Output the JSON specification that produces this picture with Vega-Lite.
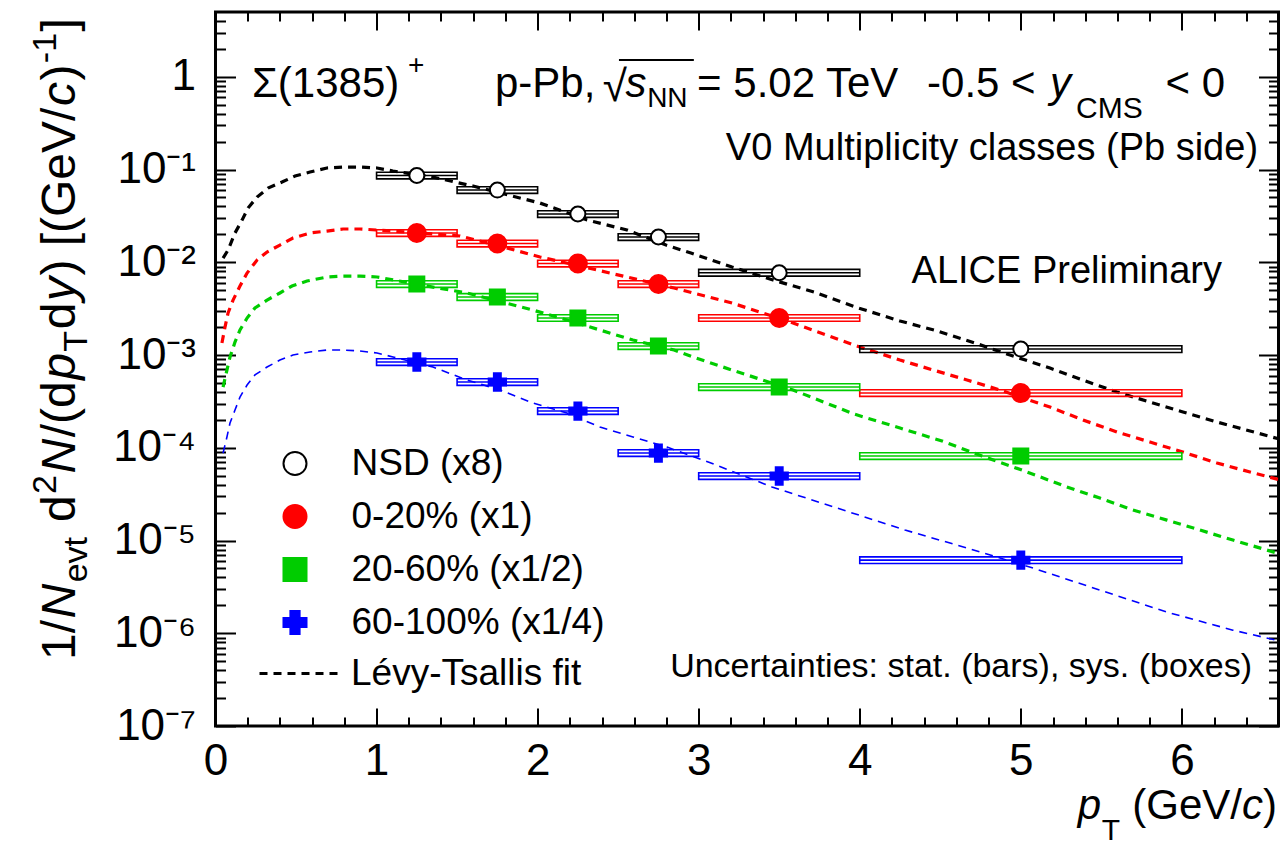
{
  "$schema": "https://vega.github.io/schema/vega-lite/v6.json",
  "width": 1063,
  "height": 714,
  "autosize": {"type": "none"},
  "padding": {"left": 215.5, "top": 12, "right": 8, "bottom": 127},
  "background": "white",
  "config": {
    "view": {"stroke": "black", "strokeWidth": 3},
    "font": "Liberation Sans",
    "text": {"font": "Liberation Sans", "color": "black"},
    "axis": {"labelFont": "Liberation Sans", "titleFont": "Liberation Sans", "labelColor": "black", "titleColor": "black", "tickColor": "black", "domain": false, "grid": false, "labelOverlap": false, "labelFlush": false, "tickWidth": 2},
    "legend": {"labelFont": "Liberation Sans", "labelColor": "black", "labelLimit": 600}
  },
  "datasets": {
    "pts": [
      {"series": "NSD (x8)", "pt": 1.25, "lo": 1.0, "hi": 1.5, "v": 0.0863, "slo": 0.0794, "shi": 0.0936},
      {"series": "NSD (x8)", "pt": 1.75, "lo": 1.5, "hi": 2.0, "v": 0.0601, "slo": 0.0553, "shi": 0.0652},
      {"series": "NSD (x8)", "pt": 2.25, "lo": 2.0, "hi": 2.5, "v": 0.0332, "slo": 0.0305, "shi": 0.036},
      {"series": "NSD (x8)", "pt": 2.75, "lo": 2.5, "hi": 3.0, "v": 0.01875, "slo": 0.01725, "shi": 0.02034},
      {"series": "NSD (x8)", "pt": 3.5, "lo": 3.0, "hi": 4.0, "v": 0.00772, "slo": 0.0071, "shi": 0.00838},
      {"series": "NSD (x8)", "pt": 5.0, "lo": 4.0, "hi": 6.0, "v": 0.00116, "slo": 0.001067, "shi": 0.001259},
      {"series": "0-20% (x1)", "pt": 1.25, "lo": 1.0, "hi": 1.5, "v": 0.0207, "slo": 0.01904, "shi": 0.02246},
      {"series": "0-20% (x1)", "pt": 1.75, "lo": 1.5, "hi": 2.0, "v": 0.01595, "slo": 0.01467, "shi": 0.01731},
      {"series": "0-20% (x1)", "pt": 2.25, "lo": 2.0, "hi": 2.5, "v": 0.0097, "slo": 0.00892, "shi": 0.01052},
      {"series": "0-20% (x1)", "pt": 2.75, "lo": 2.5, "hi": 3.0, "v": 0.00583, "slo": 0.00536, "shi": 0.00633},
      {"series": "0-20% (x1)", "pt": 3.5, "lo": 3.0, "hi": 4.0, "v": 0.00251, "slo": 0.00231, "shi": 0.00272},
      {"series": "0-20% (x1)", "pt": 5.0, "lo": 4.0, "hi": 6.0, "v": 0.000389, "slo": 0.000358, "shi": 0.000422},
      {"series": "20-60% (x1/2)", "pt": 1.25, "lo": 1.0, "hi": 1.5, "v": 0.00583, "slo": 0.00536, "shi": 0.00633},
      {"series": "20-60% (x1/2)", "pt": 1.75, "lo": 1.5, "hi": 2.0, "v": 0.00423, "slo": 0.00389, "shi": 0.00459},
      {"series": "20-60% (x1/2)", "pt": 2.25, "lo": 2.0, "hi": 2.5, "v": 0.00251, "slo": 0.00231, "shi": 0.00272},
      {"series": "20-60% (x1/2)", "pt": 2.75, "lo": 2.5, "hi": 3.0, "v": 0.00125, "slo": 0.00115, "shi": 0.001356},
      {"series": "20-60% (x1/2)", "pt": 3.5, "lo": 3.0, "hi": 4.0, "v": 0.000452, "slo": 0.000416, "shi": 0.00049},
      {"series": "20-60% (x1/2)", "pt": 5.0, "lo": 4.0, "hi": 6.0, "v": 0.0000815, "slo": 0.000075, "shi": 0.0000884},
      {"series": "60-100% (x1/4)", "pt": 1.25, "lo": 1.0, "hi": 1.5, "v": 0.000841, "slo": 0.000774, "shi": 0.000912},
      {"series": "60-100% (x1/4)", "pt": 1.75, "lo": 1.5, "hi": 2.0, "v": 0.000512, "slo": 0.000471, "shi": 0.000556},
      {"series": "60-100% (x1/4)", "pt": 2.25, "lo": 2.0, "hi": 2.5, "v": 0.000249, "slo": 0.000229, "shi": 0.00027},
      {"series": "60-100% (x1/4)", "pt": 2.75, "lo": 2.5, "hi": 3.0, "v": 0.0000877, "slo": 0.0000807, "shi": 0.0000952},
      {"series": "60-100% (x1/4)", "pt": 3.5, "lo": 3.0, "hi": 4.0, "v": 0.0000496, "slo": 0.0000456, "shi": 0.0000538},
      {"series": "60-100% (x1/4)", "pt": 5.0, "lo": 4.0, "hi": 6.0, "v": 0.00000615, "slo": 0.00000566, "shi": 0.00000667}
    ],
    "fits": [
      {"series": "NSD (x8)", "pt": 0.047, "v": 0.01111},
      {"series": "NSD (x8)", "pt": 0.078, "v": 0.01355},
      {"series": "NSD (x8)", "pt": 0.121, "v": 0.0207},
      {"series": "NSD (x8)", "pt": 0.165, "v": 0.0285},
      {"series": "NSD (x8)", "pt": 0.202, "v": 0.0385},
      {"series": "NSD (x8)", "pt": 0.258, "v": 0.0505},
      {"series": "NSD (x8)", "pt": 0.326, "v": 0.0631},
      {"series": "NSD (x8)", "pt": 0.413, "v": 0.0733},
      {"series": "NSD (x8)", "pt": 0.494, "v": 0.0851},
      {"series": "NSD (x8)", "pt": 0.587, "v": 0.094},
      {"series": "NSD (x8)", "pt": 0.692, "v": 0.1039},
      {"series": "NSD (x8)", "pt": 0.792, "v": 0.1065},
      {"series": "NSD (x8)", "pt": 0.897, "v": 0.1065},
      {"series": "NSD (x8)", "pt": 1.003, "v": 0.1039},
      {"series": "NSD (x8)", "pt": 1.102, "v": 0.0964},
      {"series": "NSD (x8)", "pt": 1.35, "v": 0.083},
      {"series": "NSD (x8)", "pt": 1.599, "v": 0.0664},
      {"series": "NSD (x8)", "pt": 2.015, "v": 0.0435},
      {"series": "NSD (x8)", "pt": 2.307, "v": 0.0286},
      {"series": "NSD (x8)", "pt": 2.555, "v": 0.0223},
      {"series": "NSD (x8)", "pt": 2.797, "v": 0.01535},
      {"series": "NSD (x8)", "pt": 2.952, "v": 0.01259},
      {"series": "NSD (x8)", "pt": 3.207, "v": 0.00889},
      {"series": "NSD (x8)", "pt": 3.462, "v": 0.00644},
      {"series": "NSD (x8)", "pt": 3.716, "v": 0.00478},
      {"series": "NSD (x8)", "pt": 3.971, "v": 0.0033},
      {"series": "NSD (x8)", "pt": 4.25, "v": 0.00233},
      {"series": "NSD (x8)", "pt": 4.48, "v": 0.00182},
      {"series": "NSD (x8)", "pt": 4.716, "v": 0.001347},
      {"series": "NSD (x8)", "pt": 4.933, "v": 0.001},
      {"series": "NSD (x8)", "pt": 5.181, "v": 0.000724},
      {"series": "NSD (x8)", "pt": 5.386, "v": 0.000537},
      {"series": "NSD (x8)", "pt": 5.597, "v": 0.000399},
      {"series": "NSD (x8)", "pt": 5.802, "v": 0.000311},
      {"series": "NSD (x8)", "pt": 6.007, "v": 0.000243},
      {"series": "NSD (x8)", "pt": 6.218, "v": 0.0001896},
      {"series": "NSD (x8)", "pt": 6.423, "v": 0.0001517},
      {"series": "NSD (x8)", "pt": 6.6, "v": 0.000125},
      {"series": "0-20% (x1)", "pt": 0.04, "v": 0.001349},
      {"series": "0-20% (x1)", "pt": 0.059, "v": 0.002004},
      {"series": "0-20% (x1)", "pt": 0.078, "v": 0.002838},
      {"series": "0-20% (x1)", "pt": 0.109, "v": 0.003917},
      {"series": "0-20% (x1)", "pt": 0.152, "v": 0.005546},
      {"series": "0-20% (x1)", "pt": 0.196, "v": 0.007656},
      {"series": "0-20% (x1)", "pt": 0.258, "v": 0.01057},
      {"series": "0-20% (x1)", "pt": 0.32, "v": 0.01291},
      {"series": "0-20% (x1)", "pt": 0.4, "v": 0.01535},
      {"series": "0-20% (x1)", "pt": 0.481, "v": 0.01827},
      {"series": "0-20% (x1)", "pt": 0.587, "v": 0.0207},
      {"series": "0-20% (x1)", "pt": 0.692, "v": 0.02173},
      {"series": "0-20% (x1)", "pt": 0.792, "v": 0.02286},
      {"series": "0-20% (x1)", "pt": 0.897, "v": 0.02286},
      {"series": "0-20% (x1)", "pt": 1.003, "v": 0.02229},
      {"series": "0-20% (x1)", "pt": 1.27, "v": 0.0207},
      {"series": "0-20% (x1)", "pt": 1.518, "v": 0.0192},
      {"series": "0-20% (x1)", "pt": 1.766, "v": 0.01496},
      {"series": "0-20% (x1)", "pt": 2.015, "v": 0.0114},
      {"series": "0-20% (x1)", "pt": 2.263, "v": 0.00912},
      {"series": "0-20% (x1)", "pt": 2.555, "v": 0.00694},
      {"series": "0-20% (x1)", "pt": 2.847, "v": 0.00528},
      {"series": "0-20% (x1)", "pt": 2.965, "v": 0.00467},
      {"series": "0-20% (x1)", "pt": 3.207, "v": 0.00364},
      {"series": "0-20% (x1)", "pt": 3.586, "v": 0.002215},
      {"series": "0-20% (x1)", "pt": 3.965, "v": 0.001282},
      {"series": "0-20% (x1)", "pt": 4.25, "v": 0.000883},
      {"series": "0-20% (x1)", "pt": 4.455, "v": 0.00069},
      {"series": "0-20% (x1)", "pt": 4.666, "v": 0.000538},
      {"series": "0-20% (x1)", "pt": 4.871, "v": 0.00042},
      {"series": "0-20% (x1)", "pt": 5.014, "v": 0.000344},
      {"series": "0-20% (x1)", "pt": 5.181, "v": 0.000275},
      {"series": "0-20% (x1)", "pt": 5.386, "v": 0.0001995},
      {"series": "0-20% (x1)", "pt": 5.597, "v": 0.0001479},
      {"series": "0-20% (x1)", "pt": 5.802, "v": 0.0001153},
      {"series": "0-20% (x1)", "pt": 6.007, "v": 0.0000899},
      {"series": "0-20% (x1)", "pt": 6.218, "v": 0.0000685},
      {"series": "0-20% (x1)", "pt": 6.423, "v": 0.0000548},
      {"series": "0-20% (x1)", "pt": 6.6, "v": 0.0000455},
      {"series": "20-60% (x1/2)", "pt": 0.047, "v": 0.000452},
      {"series": "20-60% (x1/2)", "pt": 0.071, "v": 0.000689},
      {"series": "20-60% (x1/2)", "pt": 0.09, "v": 0.000951},
      {"series": "20-60% (x1/2)", "pt": 0.121, "v": 0.00138},
      {"series": "20-60% (x1/2)", "pt": 0.152, "v": 0.001862},
      {"series": "20-60% (x1/2)", "pt": 0.196, "v": 0.002506},
      {"series": "20-60% (x1/2)", "pt": 0.245, "v": 0.003214},
      {"series": "20-60% (x1/2)", "pt": 0.32, "v": 0.003917},
      {"series": "20-60% (x1/2)", "pt": 0.4, "v": 0.004667},
      {"series": "20-60% (x1/2)", "pt": 0.475, "v": 0.005546},
      {"series": "20-60% (x1/2)", "pt": 0.568, "v": 0.006281},
      {"series": "20-60% (x1/2)", "pt": 0.692, "v": 0.006938},
      {"series": "20-60% (x1/2)", "pt": 0.792, "v": 0.007112},
      {"series": "20-60% (x1/2)", "pt": 0.897, "v": 0.007112},
      {"series": "20-60% (x1/2)", "pt": 1.003, "v": 0.006938},
      {"series": "20-60% (x1/2)", "pt": 1.35, "v": 0.005408},
      {"series": "20-60% (x1/2)", "pt": 1.562, "v": 0.004667},
      {"series": "20-60% (x1/2)", "pt": 1.971, "v": 0.003055},
      {"series": "20-60% (x1/2)", "pt": 2.182, "v": 0.002385},
      {"series": "20-60% (x1/2)", "pt": 2.387, "v": 0.001862},
      {"series": "20-60% (x1/2)", "pt": 2.592, "v": 0.001452},
      {"series": "20-60% (x1/2)", "pt": 2.847, "v": 0.001133},
      {"series": "20-60% (x1/2)", "pt": 2.965, "v": 0.000951},
      {"series": "20-60% (x1/2)", "pt": 3.207, "v": 0.000689},
      {"series": "20-60% (x1/2)", "pt": 3.586, "v": 0.00042},
      {"series": "20-60% (x1/2)", "pt": 3.965, "v": 0.000231},
      {"series": "20-60% (x1/2)", "pt": 4.25, "v": 0.0001633},
      {"series": "20-60% (x1/2)", "pt": 4.511, "v": 0.0001183},
      {"series": "20-60% (x1/2)", "pt": 4.759, "v": 0.0000815},
      {"series": "20-60% (x1/2)", "pt": 5.007, "v": 0.0000575},
      {"series": "20-60% (x1/2)", "pt": 5.286, "v": 0.0000378},
      {"series": "20-60% (x1/2)", "pt": 5.491, "v": 0.0000287},
      {"series": "20-60% (x1/2)", "pt": 5.696, "v": 0.0000213},
      {"series": "20-60% (x1/2)", "pt": 5.907, "v": 0.0000166},
      {"series": "20-60% (x1/2)", "pt": 6.112, "v": 0.00001297},
      {"series": "20-60% (x1/2)", "pt": 6.317, "v": 0.00001012},
      {"series": "20-60% (x1/2)", "pt": 6.6, "v": 0.00000725},
      {"series": "60-100% (x1/4)", "pt": 0.047, "v": 0.0000877},
      {"series": "60-100% (x1/4)", "pt": 0.071, "v": 0.0001306},
      {"series": "60-100% (x1/4)", "pt": 0.09, "v": 0.000185},
      {"series": "60-100% (x1/4)", "pt": 0.121, "v": 0.000255},
      {"series": "60-100% (x1/4)", "pt": 0.152, "v": 0.000352},
      {"series": "60-100% (x1/4)", "pt": 0.196, "v": 0.000475},
      {"series": "60-100% (x1/4)", "pt": 0.245, "v": 0.00061},
      {"series": "60-100% (x1/4)", "pt": 0.32, "v": 0.000743},
      {"series": "60-100% (x1/4)", "pt": 0.4, "v": 0.000883},
      {"series": "60-100% (x1/4)", "pt": 0.481, "v": 0.001},
      {"series": "60-100% (x1/4)", "pt": 0.587, "v": 0.001078},
      {"series": "60-100% (x1/4)", "pt": 0.692, "v": 0.001133},
      {"series": "60-100% (x1/4)", "pt": 0.792, "v": 0.001133},
      {"series": "60-100% (x1/4)", "pt": 0.897, "v": 0.001105},
      {"series": "60-100% (x1/4)", "pt": 1.003, "v": 0.001052},
      {"series": "60-100% (x1/4)", "pt": 1.102, "v": 0.000953},
      {"series": "60-100% (x1/4)", "pt": 1.35, "v": 0.000743},
      {"series": "60-100% (x1/4)", "pt": 1.562, "v": 0.000537},
      {"series": "60-100% (x1/4)", "pt": 1.766, "v": 0.00042},
      {"series": "60-100% (x1/4)", "pt": 1.971, "v": 0.000304},
      {"series": "60-100% (x1/4)", "pt": 2.182, "v": 0.000237},
      {"series": "60-100% (x1/4)", "pt": 2.387, "v": 0.0001675},
      {"series": "60-100% (x1/4)", "pt": 2.592, "v": 0.0001306},
      {"series": "60-100% (x1/4)", "pt": 2.803, "v": 0.0001019},
      {"series": "60-100% (x1/4)", "pt": 3.076, "v": 0.0000685},
      {"series": "60-100% (x1/4)", "pt": 3.455, "v": 0.0000378},
      {"series": "60-100% (x1/4)", "pt": 3.84, "v": 0.00002296},
      {"series": "60-100% (x1/4)", "pt": 4.281, "v": 0.00001297},
      {"series": "60-100% (x1/4)", "pt": 4.666, "v": 0.0000083},
      {"series": "60-100% (x1/4)", "pt": 5.076, "v": 0.00000505},
      {"series": "60-100% (x1/4)", "pt": 5.491, "v": 0.00000292},
      {"series": "60-100% (x1/4)", "pt": 5.907, "v": 0.00000169},
      {"series": "60-100% (x1/4)", "pt": 6.317, "v": 0.00000108},
      {"series": "60-100% (x1/4)", "pt": 6.6, "v": 0.00000083}
    ]
  },
  "layer": [
    {
      "data": {"name": "fits"},
      "mark": {"type": "line", "strokeCap": "butt", "clip": true},
      "encoding": {
        "x": {"field": "pt", "type": "quantitative", "scale": {"domain": [0, 6.6], "nice": false, "zero": false}, "axis": null},
        "y": {"field": "v", "type": "quantitative", "scale": {"type": "log", "domain": [1e-7, 5], "nice": false}, "axis": null},
        "detail": {"field": "series"},
        "stroke": {"condition": [{"test": "datum.series === '0-20% (x1)'", "value": "#ff0000"}, {"test": "datum.series === '20-60% (x1/2)'", "value": "#00cc00"}, {"test": "datum.series === '60-100% (x1/4)'", "value": "#0000ff"}], "value": "black"},
        "strokeWidth": {"condition": {"test": "datum.series === '60-100% (x1/4)'", "value": 1.6}, "value": 3.2},
        "strokeDash": {"datum": "Lévy-Tsallis fit", "scale": {"range": [[8, 6]]},
          "legend": {"orient": "none", "legendX": 42.5, "legendY": 620, "title": null, "symbolType": "stroke", "symbolSize": 6400, "symbolStrokeColor": "black", "symbolStrokeWidth": 3, "labelFontSize": 37, "labelOffset": 10, "padding": 0}}
      }
    },
    {
      "data": {"name": "pts"},
      "mark": {"type": "rect", "filled": false, "strokeWidth": 1.6},
      "encoding": {
        "x": {"field": "lo", "type": "quantitative", "scale": {"domain": [0, 6.6], "nice": false, "zero": false}, "axis": null},
        "x2": {"field": "hi"},
        "y": {"field": "slo", "type": "quantitative", "scale": {"type": "log", "domain": [1e-7, 5], "nice": false}, "axis": null},
        "y2": {"field": "shi"},
        "stroke": {"condition": [{"test": "datum.series === '0-20% (x1)'", "value": "#ff0000"}, {"test": "datum.series === '20-60% (x1/2)'", "value": "#00cc00"}, {"test": "datum.series === '60-100% (x1/4)'", "value": "#0000ff"}], "value": "black"}
      }
    },
    {
      "data": {"name": "pts"},
      "mark": {"type": "rule", "strokeWidth": 1.6},
      "encoding": {
        "x": {"field": "lo", "type": "quantitative", "scale": {"domain": [0, 6.6], "nice": false, "zero": false}, "axis": null},
        "x2": {"field": "hi"},
        "y": {"field": "v", "type": "quantitative", "scale": {"type": "log", "domain": [1e-7, 5], "nice": false}, "axis": null},
        "stroke": {"condition": [{"test": "datum.series === '0-20% (x1)'", "value": "#ff0000"}, {"test": "datum.series === '20-60% (x1/2)'", "value": "#00cc00"}, {"test": "datum.series === '60-100% (x1/4)'", "value": "#0000ff"}], "value": "black"}
      }
    },
    {
      "data": {"name": "pts"},
      "mark": {"type": "point", "filled": true, "strokeWidth": 2, "opacity": 1},
      "encoding": {
        "x": {"field": "pt", "type": "quantitative", "scale": {"domain": [0, 6.6], "nice": false, "zero": false}, "axis": null},
        "y": {"field": "v", "type": "quantitative", "scale": {"type": "log", "domain": [1e-7, 5], "nice": false}, "axis": null},
        "shape": {"field": "series", "type": "nominal", "scale": {"domain": ["NSD (x8)", "0-20% (x1)", "20-60% (x1/2)", "60-100% (x1/4)"], "range": ["circle", "circle", "square", "cross"]},
          "legend": {"orient": "none", "legendX": 61, "legendY": 433, "title": null, "labelFontSize": 37, "rowPadding": 15, "labelOffset": 38, "padding": 0, "symbolStrokeWidth": 2, "symbolSize": 530}},
        "fill": {"field": "series", "type": "nominal", "scale": {"domain": ["NSD (x8)", "0-20% (x1)", "20-60% (x1/2)", "60-100% (x1/4)"], "range": ["white", "#ff0000", "#00cc00", "#0000ff"]},
          "legend": {"orient": "none", "legendX": 61, "legendY": 433, "title": null, "labelFontSize": 37, "rowPadding": 15, "labelOffset": 38, "padding": 0, "symbolStrokeWidth": 2, "symbolSize": 530}},
        "stroke": {"field": "series", "type": "nominal", "scale": {"domain": ["NSD (x8)", "0-20% (x1)", "20-60% (x1/2)", "60-100% (x1/4)"], "range": ["black", "#ff0000", "#00cc00", "#0000ff"]},
          "legend": {"orient": "none", "legendX": 61, "legendY": 433, "title": null, "labelFontSize": 37, "rowPadding": 15, "labelOffset": 38, "padding": 0, "symbolStrokeWidth": 2, "symbolSize": 530}},
        "size": {"condition": [{"test": "datum.series === '0-20% (x1)'", "value": 324}, {"test": "datum.series === '60-100% (x1/4)'", "value": 300}], "value": 225}
      }
    },
    {"data": {"values": [{}]}, "mark": {"type": "text", "text": "Σ(1385)", "align": "left", "baseline": "alphabetic", "fontSize": 42},
      "encoding": {"x": {"datum": 0.226, "type": "quantitative", "axis": null}, "y": {"datum": 0.605, "type": "quantitative", "axis": null}}},
    {"data": {"values": [{}]}, "mark": {"type": "text", "text": "+", "align": "left", "baseline": "middle", "fontSize": 28},
      "encoding": {"x": {"datum": 1.195, "type": "quantitative", "axis": null}, "y": {"datum": 1.306, "type": "quantitative", "axis": null}}},
    {"data": {"values": [{}]}, "mark": {"type": "text", "text": "p-Pb,", "align": "left", "baseline": "alphabetic", "fontSize": 42},
      "encoding": {"x": {"datum": 1.735, "type": "quantitative", "axis": null}, "y": {"datum": 0.605, "type": "quantitative", "axis": null}}},
    {"data": {"values": [{}]}, "mark": {"type": "text", "text": "√", "align": "left", "baseline": "alphabetic", "fontSize": 44},
      "encoding": {"x": {"datum": 2.405, "type": "quantitative", "axis": null}, "y": {"datum": 0.55, "type": "quantitative", "axis": null}}},
    {"data": {"values": [{}]}, "mark": {"type": "rule", "strokeWidth": 2, "color": "black"},
      "encoding": {"x": {"datum": 2.505, "type": "quantitative", "axis": null}, "x2": {"datum": 2.97}, "y": {"datum": 1.517, "type": "quantitative", "axis": null}}},
    {"data": {"values": [{}]}, "mark": {"type": "text", "text": "s", "align": "left", "baseline": "alphabetic", "fontSize": 42, "fontStyle": "italic"},
      "encoding": {"x": {"datum": 2.545, "type": "quantitative", "axis": null}, "y": {"datum": 0.605, "type": "quantitative", "axis": null}}},
    {"data": {"values": [{}]}, "mark": {"type": "text", "text": "NN", "align": "left", "baseline": "alphabetic", "fontSize": 28},
      "encoding": {"x": {"datum": 2.68, "type": "quantitative", "axis": null}, "y": {"datum": 0.472, "type": "quantitative", "axis": null}}},
    {"data": {"values": [{}]}, "mark": {"type": "text", "text": "= 5.02 TeV", "align": "left", "baseline": "alphabetic", "fontSize": 42},
      "encoding": {"x": {"datum": 2.99, "type": "quantitative", "axis": null}, "y": {"datum": 0.605, "type": "quantitative", "axis": null}}},
    {"data": {"values": [{}]}, "mark": {"type": "text", "text": "-0.5 <", "align": "left", "baseline": "alphabetic", "fontSize": 42},
      "encoding": {"x": {"datum": 4.418, "type": "quantitative", "axis": null}, "y": {"datum": 0.605, "type": "quantitative", "axis": null}}},
    {"data": {"values": [{}]}, "mark": {"type": "text", "text": "y", "align": "left", "baseline": "alphabetic", "fontSize": 42, "fontStyle": "italic"},
      "encoding": {"x": {"datum": 5.182, "type": "quantitative", "axis": null}, "y": {"datum": 0.605, "type": "quantitative", "axis": null}}},
    {"data": {"values": [{}]}, "mark": {"type": "text", "text": "CMS", "align": "left", "baseline": "alphabetic", "fontSize": 30},
      "encoding": {"x": {"datum": 5.343, "type": "quantitative", "axis": null}, "y": {"datum": 0.36, "type": "quantitative", "axis": null}}},
    {"data": {"values": [{}]}, "mark": {"type": "text", "text": "< 0", "align": "right", "baseline": "alphabetic", "fontSize": 42},
      "encoding": {"x": {"datum": 6.268, "type": "quantitative", "axis": null}, "y": {"datum": 0.605, "type": "quantitative", "axis": null}}},
    {"data": {"values": [{}]}, "mark": {"type": "text", "text": "V0 Multiplicity classes (Pb side)", "align": "right", "baseline": "alphabetic", "fontSize": 38},
      "encoding": {"x": {"datum": 6.473, "type": "quantitative", "axis": null}, "y": {"datum": 0.1267, "type": "quantitative", "axis": null}}},
    {"data": {"values": [{}]}, "mark": {"type": "text", "text": "ALICE Preliminary", "align": "right", "baseline": "alphabetic", "fontSize": 38},
      "encoding": {"x": {"datum": 6.249, "type": "quantitative", "axis": null}, "y": {"datum": 0.00594, "type": "quantitative", "axis": null}}},
    {"data": {"values": [{}]}, "mark": {"type": "text", "text": "Uncertainties: stat. (bars), sys. (boxes)", "align": "right", "baseline": "alphabetic", "fontSize": 34},
      "encoding": {"x": {"datum": 6.436, "type": "quantitative", "axis": null}, "y": {"datum": 3.37e-7, "type": "quantitative", "axis": null}}},
    {"data": {"values": [{}]}, "mark": {"type": "text", "text": "p", "align": "right", "baseline": "alphabetic", "fontSize": 42, "fontStyle": "italic"},
      "encoding": {"x": {"datum": 5.4979, "type": "quantitative", "axis": null}, "y": {"datum": 1.0e-8, "type": "quantitative", "axis": null}}},
    {"data": {"values": [{}]}, "mark": {"type": "text", "text": "T", "align": "right", "baseline": "alphabetic", "fontSize": 30},
      "encoding": {"x": {"datum": 5.6159, "type": "quantitative", "axis": null}, "y": {"datum": 5.9e-9, "type": "quantitative", "axis": null}}},
    {"data": {"values": [{}]}, "mark": {"type": "text", "text": "(GeV/", "align": "right", "baseline": "alphabetic", "fontSize": 42},
      "encoding": {"x": {"datum": 6.3734, "type": "quantitative", "axis": null}, "y": {"datum": 1.0e-8, "type": "quantitative", "axis": null}}},
    {"data": {"values": [{}]}, "mark": {"type": "text", "text": "c", "align": "right", "baseline": "alphabetic", "fontSize": 42, "fontStyle": "italic"},
      "encoding": {"x": {"datum": 6.5038, "type": "quantitative", "axis": null}, "y": {"datum": 1.0e-8, "type": "quantitative", "axis": null}}},
    {"data": {"values": [{}]}, "mark": {"type": "text", "text": ")", "align": "right", "baseline": "alphabetic", "fontSize": 42},
      "encoding": {"x": {"datum": 6.5907, "type": "quantitative", "axis": null}, "y": {"datum": 1.0e-8, "type": "quantitative", "axis": null}}},
    {"data": {"values": [{}]}, "mark": {"type": "text", "text": "1/", "angle": 270, "align": "left", "baseline": "alphabetic", "fontSize": 48},
      "encoding": {"x": {"datum": -0.8724, "type": "quantitative", "axis": null}, "y": {"datum": 5.146e-7, "type": "quantitative", "axis": null}}},
    {"data": {"values": [{}]}, "mark": {"type": "text", "text": "N", "angle": 270, "align": "left", "baseline": "alphabetic", "fontSize": 48, "fontStyle": "italic"},
      "encoding": {"x": {"datum": -0.8724, "type": "quantitative", "axis": null}, "y": {"datum": 1.442e-6, "type": "quantitative", "axis": null}}},
    {"data": {"values": [{}]}, "mark": {"type": "text", "text": "evt", "angle": 270, "align": "left", "baseline": "alphabetic", "fontSize": 34},
      "encoding": {"x": {"datum": -0.7978, "type": "quantitative", "axis": null}, "y": {"datum": 3.541e-6, "type": "quantitative", "axis": null}}},
    {"data": {"values": [{}]}, "mark": {"type": "text", "text": "d", "angle": 270, "align": "left", "baseline": "alphabetic", "fontSize": 48},
      "encoding": {"x": {"datum": -0.8724, "type": "quantitative", "axis": null}, "y": {"datum": 1.579e-5, "type": "quantitative", "axis": null}}},
    {"data": {"values": [{}]}, "mark": {"type": "text", "text": "2", "angle": 270, "align": "left", "baseline": "alphabetic", "fontSize": 34},
      "encoding": {"x": {"datum": -0.9903, "type": "quantitative", "axis": null}, "y": {"datum": 3.181e-5, "type": "quantitative", "axis": null}}},
    {"data": {"values": [{}]}, "mark": {"type": "text", "text": "N", "angle": 270, "align": "left", "baseline": "alphabetic", "fontSize": 48, "fontStyle": "italic"},
      "encoding": {"x": {"datum": -0.8724, "type": "quantitative", "axis": null}, "y": {"datum": 5.279e-5, "type": "quantitative", "axis": null}}},
    {"data": {"values": [{}]}, "mark": {"type": "text", "text": "/(d", "angle": 270, "align": "left", "baseline": "alphabetic", "fontSize": 48},
      "encoding": {"x": {"datum": -0.8724, "type": "quantitative", "axis": null}, "y": {"datum": 1.297e-4, "type": "quantitative", "axis": null}}},
    {"data": {"values": [{}]}, "mark": {"type": "text", "text": "p", "angle": 270, "align": "left", "baseline": "alphabetic", "fontSize": 48, "fontStyle": "italic"},
      "encoding": {"x": {"datum": -0.8724, "type": "quantitative", "axis": null}, "y": {"datum": 5.404e-4, "type": "quantitative", "axis": null}}},
    {"data": {"values": [{}]}, "mark": {"type": "text", "text": "T", "angle": 270, "align": "left", "baseline": "alphabetic", "fontSize": 34},
      "encoding": {"x": {"datum": -0.7978, "type": "quantitative", "axis": null}, "y": {"datum": 1.088e-3, "type": "quantitative", "axis": null}}},
    {"data": {"values": [{}]}, "mark": {"type": "text", "text": "d", "angle": 270, "align": "left", "baseline": "alphabetic", "fontSize": 48},
      "encoding": {"x": {"datum": -0.8724, "type": "quantitative", "axis": null}, "y": {"datum": 1.894e-3, "type": "quantitative", "axis": null}}},
    {"data": {"values": [{}]}, "mark": {"type": "text", "text": "y", "angle": 270, "align": "left", "baseline": "alphabetic", "fontSize": 48, "fontStyle": "italic"},
      "encoding": {"x": {"datum": -0.8724, "type": "quantitative", "axis": null}, "y": {"datum": 3.814e-3, "type": "quantitative", "axis": null}}},
    {"data": {"values": [{}]}, "mark": {"type": "text", "text": ") [(GeV/", "angle": 270, "align": "left", "baseline": "alphabetic", "fontSize": 48},
      "encoding": {"x": {"datum": -0.8724, "type": "quantitative", "axis": null}, "y": {"datum": 7.185e-3, "type": "quantitative", "axis": null}}},
    {"data": {"values": [{}]}, "mark": {"type": "text", "text": "c", "angle": 270, "align": "left", "baseline": "alphabetic", "fontSize": 48, "fontStyle": "italic"},
      "encoding": {"x": {"datum": -0.8724, "type": "quantitative", "axis": null}, "y": {"datum": 0.4831, "type": "quantitative", "axis": null}}},
    {"data": {"values": [{}]}, "mark": {"type": "text", "text": ")", "angle": 270, "align": "left", "baseline": "alphabetic", "fontSize": 48},
      "encoding": {"x": {"datum": -0.8724, "type": "quantitative", "axis": null}, "y": {"datum": 0.91, "type": "quantitative", "axis": null}}},
    {"data": {"values": [{}]}, "mark": {"type": "text", "text": "-1", "angle": 270, "align": "left", "baseline": "alphabetic", "fontSize": 34},
      "encoding": {"x": {"datum": -0.9903, "type": "quantitative", "axis": null}, "y": {"datum": 1.405, "type": "quantitative", "axis": null}}},
    {"data": {"values": [{}]}, "mark": {"type": "text", "text": "]", "angle": 270, "align": "left", "baseline": "alphabetic", "fontSize": 48},
      "encoding": {"x": {"datum": -0.8724, "type": "quantitative", "axis": null}, "y": {"datum": 3.087, "type": "quantitative", "axis": null}}},
    {
      "data": {"name": "pts"},
      "mark": {"type": "point", "opacity": 0},
      "encoding": {
        "x": {"field": "pt", "type": "quantitative", "scale": {"domain": [0, 6.6], "nice": false, "zero": false},
          "axis": {"orient": "bottom", "values": [0, 1, 2, 3, 4, 5, 6], "format": "d", "tickSize": -18, "labelFontSize": 44, "labelPadding": 31, "labelBaseline": "top", "title": null}},
        "y": {"field": "v", "type": "quantitative", "scale": {"type": "log", "domain": [1e-7, 5], "nice": false},
          "axis": {"orient": "left", "values": [1e-7, 1e-6, 1e-5, 1e-4, 0.001, 0.01, 0.1, 1], "tickSize": -20, "labelFontSize": 44, "labelPadding": 40, "labelBaseline": "middle",
            "labelExpr": "datum.value > 0.5 ? '1' : datum.value > 0.05 ? '10⁻¹' : datum.value > 0.005 ? '10⁻²' : datum.value > 0.0005 ? '10⁻³' : datum.value > 0.00005 ? '10⁻⁴' : datum.value > 0.000005 ? '10⁻⁵' : datum.value > 0.0000005 ? '10⁻⁶' : '10⁻⁷'",
            "title": null}}
      }
    },
    {
      "data": {"name": "pts"},
      "mark": {"type": "point", "opacity": 0},
      "encoding": {
        "x": {"field": "pt", "type": "quantitative", "scale": {"domain": [0, 6.6], "nice": false, "zero": false},
          "axis": {"orient": "bottom", "values": [0.2,0.4,0.6,0.8,1.2,1.4,1.6,1.8,2.2,2.4,2.6,2.8,3.2,3.4,3.6,3.8,4.2,4.4,4.6,4.8,5.2,5.4,5.6,5.8,6.2,6.4], "tickSize": -9, "labels": false, "title": null}},
        "y": {"field": "v", "type": "quantitative", "scale": {"type": "log", "domain": [1e-7, 5], "nice": false},
          "axis": {"orient": "left", "values": [2e-7,3e-7,4e-7,5e-7,6e-7,7e-7,8e-7,9e-7,2e-6,3e-6,4e-6,5e-6,6e-6,7e-6,8e-6,9e-6,2e-5,3e-5,4e-5,5e-5,6e-5,7e-5,8e-5,9e-5,2e-4,3e-4,4e-4,5e-4,6e-4,7e-4,8e-4,9e-4,0.002,0.003,0.004,0.005,0.006,0.007,0.008,0.009,0.02,0.03,0.04,0.05,0.06,0.07,0.08,0.09,0.2,0.3,0.4,0.5,0.6,0.7,0.8,0.9,2,3,4], "tickSize": -10, "labels": false, "title": null}}
      }
    },
    {
      "data": {"name": "pts"},
      "mark": {"type": "point", "opacity": 0},
      "encoding": {
        "x": {"field": "pt", "type": "quantitative", "scale": {"domain": [0, 6.6], "nice": false, "zero": false},
          "axis": {"orient": "top", "values": [0, 1, 2, 3, 4, 5, 6], "tickSize": -18, "labels": false, "title": null}},
        "y": {"field": "v", "type": "quantitative", "scale": {"type": "log", "domain": [1e-7, 5], "nice": false},
          "axis": {"orient": "right", "values": [1e-7, 1e-6, 1e-5, 1e-4, 0.001, 0.01, 0.1, 1], "tickSize": -20, "labels": false, "title": null}}
      }
    },
    {
      "data": {"name": "pts"},
      "mark": {"type": "point", "opacity": 0},
      "encoding": {
        "x": {"field": "pt", "type": "quantitative", "scale": {"domain": [0, 6.6], "nice": false, "zero": false},
          "axis": {"orient": "top", "values": [0.2,0.4,0.6,0.8,1.2,1.4,1.6,1.8,2.2,2.4,2.6,2.8,3.2,3.4,3.6,3.8,4.2,4.4,4.6,4.8,5.2,5.4,5.6,5.8,6.2,6.4], "tickSize": -9, "labels": false, "title": null}},
        "y": {"field": "v", "type": "quantitative", "scale": {"type": "log", "domain": [1e-7, 5], "nice": false},
          "axis": {"orient": "right", "values": [2e-7,3e-7,4e-7,5e-7,6e-7,7e-7,8e-7,9e-7,2e-6,3e-6,4e-6,5e-6,6e-6,7e-6,8e-6,9e-6,2e-5,3e-5,4e-5,5e-5,6e-5,7e-5,8e-5,9e-5,2e-4,3e-4,4e-4,5e-4,6e-4,7e-4,8e-4,9e-4,0.002,0.003,0.004,0.005,0.006,0.007,0.008,0.009,0.02,0.03,0.04,0.05,0.06,0.07,0.08,0.09,0.2,0.3,0.4,0.5,0.6,0.7,0.8,0.9,2,3,4], "tickSize": -10, "labels": false, "title": null}}
      }
    }
  ],
  "resolve": {"axis": {"x": "independent", "y": "independent"}}
}
